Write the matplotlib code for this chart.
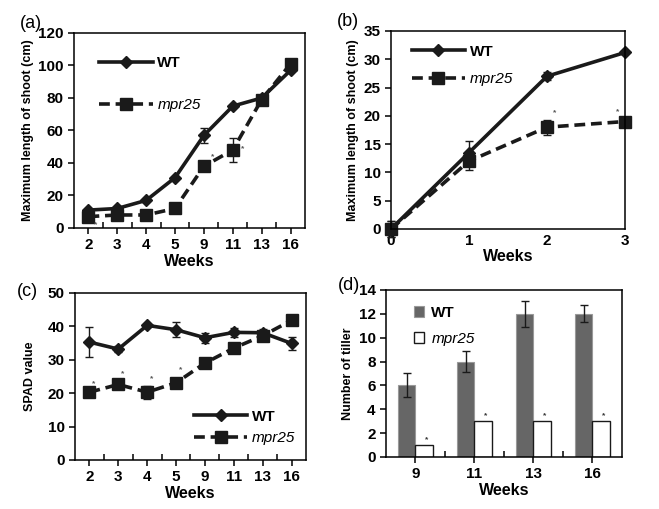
import matplotlib
matplotlib.use("Agg")
import matplotlib.pyplot as plt
from matplotlib.lines import Line2D
from matplotlib.patches import Patch
import numpy as np

plt.rcParams['font.family'] = ['Liberation Sans', 'DejaVu Sans']
plt.rcParams['font.weight'] = 'bold'

# (a) maximum shoot length, long term
weeks_a = ['2', '3', '4', '5', '9', '11', '13', '16']
wt_a = [11, 12, 17, 31, 57, 75, 80, 97]
wt_a_err = [0, 0, 0, 0, 4.5, 0, 0, 0]
mpr_a = [7, 8, 8, 12, 38, 48, 79, 101]
mpr_a_err = [0, 0, 0, 0, 0, 7.5, 0, 0]

# (b) maximum shoot length, first weeks
weeks_b = [0, 1, 2, 3]
wt_b = [0, 13.5, 27, 31.2]
wt_b_err = [1.5, 2, 0.7, 0]
mpr_b = [0, 12, 18, 19]
mpr_b_err = [1.5, 1.5, 1.3, 0]

# (c) SPAD value
weeks_c = ['2', '3', '4', '5', '9', '11', '13', '16']
wt_c = [35.3, 33.2, 40.3, 39, 36.6, 38.2, 38.1, 34.9]
wt_c_err = [4.6, 1.0, 0.5, 2.2, 1.5, 1.3, 1.0, 2.0]
mpr_c = [20.3, 22.6, 20.3, 23.1, 29, 33.5, 37.2, 41.8]
mpr_c_err = [0, 0, 1.9, 0, 0, 0, 0, 0]

# (d) tiller number
weeks_d = ['9', '11', '13', '16']
wt_d = [6, 8, 12, 12]
wt_d_err = [1, 0.9, 1.1, 0.7]
mpr_d = [1, 3, 3, 3]

fig = plt.figure(figsize=(6.59, 5.09), dpi=100)
ax_a = fig.add_axes([0.1123, 0.5521, 0.3505, 0.3831])
ax_b = fig.add_axes([0.5933, 0.5501, 0.3551, 0.3890])
ax_c = fig.add_axes([0.1138, 0.0963, 0.3505, 0.3281])
ax_d = fig.add_axes([0.5857, 0.1022, 0.3581, 0.3281])

dark = '#1a1a1a'
wt_line = dict(color=dark, lw=2.6, marker='D', ms=6)
mpr_line = dict(color=dark, lw=2.6, ls=(0, (3, 1.6)), marker='s', ms=9)
err_kw = dict(capsize=3, elinewidth=1, capthick=1)

line_handles = [Line2D([], [], **wt_line), Line2D([], [], **mpr_line)]


def style_axes(ax):
    for s in ax.spines.values():
        s.set_linewidth(1.1)
    ax.tick_params(labelsize=11, width=1.1, length=4, direction='out')
    ax.set_xlabel('Weeks', fontsize=11.5, fontweight='bold', labelpad=1)


def cat_ticks(ax, labels):
    n = len(labels)
    ax.set_xlim(-0.5, n - 0.5)
    ax.set_xticks(np.arange(n))
    ax.set_xticklabels(labels)
    ax.set_xticks(np.arange(n - 1) + 0.5, minor=True)
    ax.tick_params(axis='x', which='major', length=0)
    ax.tick_params(axis='x', which='minor', length=4, width=1.1, direction='in')


def italic_second(leg):
    leg.get_texts()[1].set_style('italic')
    leg.get_texts()[1].set_fontweight('normal')


# panel a
x = np.arange(len(weeks_a))
ax_a.errorbar(x, wt_a, yerr=wt_a_err, **wt_line, **err_kw)
ax_a.errorbar(x, mpr_a, yerr=mpr_a_err, **mpr_line, **err_kw)
for i, v in [(0.25, 1), (4.3, 43), (5.35, 48)]:
    ax_a.text(i, v, '*', fontsize=6, ha='center', color='#555555')
ax_a.set_ylim(0, 120)
ax_a.set_yticks(range(0, 121, 20))
cat_ticks(ax_a, weeks_a)
style_axes(ax_a)
ax_a.set_ylabel('Maximum length of shoot (cm)', fontsize=9, fontweight='bold', labelpad=3)
leg = ax_a.legend(line_handles, ['WT', 'mpr25'], loc='upper left', bbox_to_anchor=(0.05, 0.95),
                  frameon=False, fontsize=11, handlelength=3.5, labelspacing=1.8, handletextpad=0.3)
italic_second(leg)

# panel b
ax_b.errorbar(weeks_b, wt_b, yerr=wt_b_err, clip_on=False, **wt_line, **err_kw)
ax_b.errorbar(weeks_b, mpr_b, yerr=mpr_b_err, clip_on=False, **mpr_line, **err_kw)
ax_b.text(2.1, 20.2, '*', fontsize=6, ha='center', color='#555555')
ax_b.text(2.9, 20.5, '*', fontsize=6, ha='center', color='#555555')
ax_b.set_xlim(0, 3)
ax_b.set_ylim(0, 35)
ax_b.set_xticks(weeks_b)
ax_b.set_yticks(range(0, 36, 5))
style_axes(ax_b)
ax_b.tick_params(axis='x', length=0)
ax_b.set_ylabel('Maximum length of shoot (cm)', fontsize=9, fontweight='bold', labelpad=3)
leg = ax_b.legend(line_handles, ['WT', 'mpr25'], loc='upper left', bbox_to_anchor=(0.03, 1.0),
                  frameon=False, fontsize=11, handlelength=3.5, labelspacing=0.9, handletextpad=0.3)
italic_second(leg)

# panel c
x = np.arange(len(weeks_c))
ax_c.errorbar(x, wt_c, yerr=wt_c_err, **wt_line, **err_kw)
ax_c.errorbar(x, mpr_c, yerr=mpr_c_err, **mpr_line, **err_kw)
for i, v in [(0, 22.5), (1, 25.5), (2, 24), (3, 26.5)]:
    ax_c.text(i + 0.15, v, '*', fontsize=6, ha='center', color='#555555')
ax_c.set_ylim(0, 50)
ax_c.set_yticks(range(0, 51, 10))
cat_ticks(ax_c, weeks_c)
style_axes(ax_c)
ax_c.set_ylabel('SPAD value', fontsize=9, fontweight='bold', labelpad=8)
leg = ax_c.legend(line_handles, ['WT', 'mpr25'], loc='lower left', bbox_to_anchor=(0.455, 0.005),
                  frameon=False, fontsize=11, handlelength=3.5, labelspacing=0.5, handletextpad=0.3)
italic_second(leg)

# panel d
x = np.arange(len(weeks_d))
w = 0.29
ax_d.bar(x - w / 2, wt_d, w, yerr=wt_d_err, color='#666666', edgecolor='#999999', lw=0.8,
         error_kw=dict(ecolor=dark, capsize=3, elinewidth=1))
ax_d.bar(x + w / 2, mpr_d, w, color='white', edgecolor=dark, lw=1)
for i, v in enumerate(mpr_d):
    ax_d.text(i + w / 2 + 0.05, v + 0.3, '*', fontsize=6, ha='center', color='#333333')
ax_d.set_ylim(0, 14)
ax_d.set_yticks(range(0, 15, 2))
cat_ticks(ax_d, weeks_d)
style_axes(ax_d)
ax_d.set_ylabel('Number of tiller', fontsize=9, fontweight='bold', labelpad=3)
bar_handles = [Patch(facecolor='#666666', edgecolor='#999999', lw=0.8),
               Patch(facecolor='white', edgecolor=dark, lw=1)]
leg = ax_d.legend(bar_handles, ['WT', 'mpr25'], loc='upper left', bbox_to_anchor=(0.06, 0.985),
                  frameon=False, fontsize=11, handlelength=0.65, handleheight=0.75,
                  labelspacing=0.75, handletextpad=0.5)
italic_second(leg)

# panel letters
for ax, lab, dx, dy in [(ax_a, '(a)', -0.235, 1.005), (ax_b, '(b)', -0.23, 1.005),
                        (ax_c, '(c)', -0.25, 0.96), (ax_d, '(d)', -0.205, 0.975)]:
    ax.text(dx, dy, lab, transform=ax.transAxes, fontsize=13, fontweight='normal',
            ha='left', va='bottom')

fig.savefig('out.png', dpi=100)
